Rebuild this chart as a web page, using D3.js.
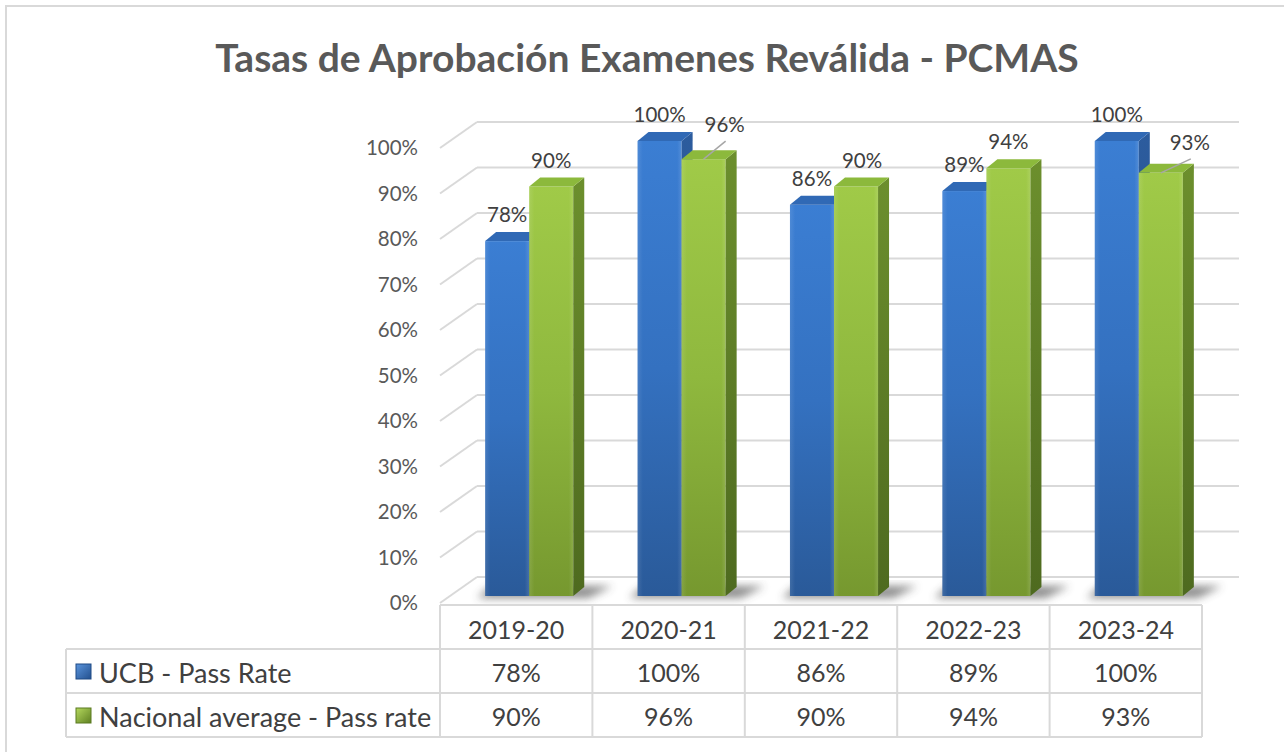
<!DOCTYPE html>
<html><head><meta charset="utf-8">
<script src="https://cdn.jsdelivr.net/npm/d3@7"></script>
<style>body{margin:0;background:#fff}svg{display:block}</style>
</head><body>
<svg id="c" width="1284" height="752"></svg>
<script>
// ---- data ----
const categories = ["2019-20", "2020-21", "2021-22", "2022-23", "2023-24"];
const ucbPassRate = [78, 100, 86, 89, 100];
const nacionalPassRate = [90, 96, 90, 94, 93];
const seriesNames = ["UCB - Pass Rate", "Nacional average - Pass rate"];
const yTicks = [0, 10, 20, 30, 40, 50, 60, 70, 80, 90, 100];
const title = "Tasas de Aprobación Examenes Reválida - PCMAS";

// ---- drawing ----
const FONT = "Lato, 'Open Sans', sans-serif";
const svg = d3.select("#c");
const defs = svg.append("defs");

function vgrad(id, stops) {
  const g = defs.append("linearGradient").attr("id", id).attr("x1", 0).attr("y1", 0).attr("x2", 0).attr("y2", 1);
  stops.forEach(s => g.append("stop").attr("offset", s[0]).attr("stop-color", s[1]));
}
function hgrad(id, stops) {
  const g = defs.append("linearGradient").attr("id", id).attr("x1", 0).attr("y1", 0).attr("x2", 1).attr("y2", 0);
  stops.forEach(s => g.append("stop").attr("offset", s[0]).attr("stop-color", s[1]));
}
vgrad("blueFront", [[0, "#3b7ed3"], [0.5, "#3471c0"], [1, "#2a5a99"]]);
vgrad("blueSide", [[0, "#2c5c9e"], [1, "#22497f"]]);
vgrad("greenFront", [[0, "#a0ca48"], [0.5, "#8fb83e"], [1, "#76982f"]]);
vgrad("greenSide", [[0, "#6c8f2d"], [1, "#4e6a1f"]]);
hgrad("faceHi", [[0, "rgba(255,255,255,0.10)"], [0.12, "rgba(255,255,255,0)"], [0.9, "rgba(255,255,255,0)"], [1, "rgba(255,255,255,0.12)"]]);
const blur = defs.append("filter").attr("id", "shadowBlur").attr("x", "-50%").attr("y", "-50%").attr("width", "200%").attr("height", "200%");
blur.append("feGaussianBlur").attr("stdDeviation", 4);
const lg1 = defs.append("linearGradient").attr("id", "legBlue").attr("x1", 0).attr("y1", 0).attr("x2", 1).attr("y2", 1);
lg1.append("stop").attr("offset", 0).attr("stop-color", "#5b95dd");
lg1.append("stop").attr("offset", 1).attr("stop-color", "#23508e");
const lg2 = defs.append("linearGradient").attr("id", "legGreen").attr("x1", 0).attr("y1", 0).attr("x2", 1).attr("y2", 1);
lg2.append("stop").attr("offset", 0).attr("stop-color", "#b5d95e");
lg2.append("stop").attr("offset", 1).attr("stop-color", "#5f8022");

// chart frame
svg.append("rect").attr("x", 6).attr("y", 6).attr("width", 1300).attr("height", 800)
  .attr("fill", "#fff").attr("stroke", "#d9d9d9").attr("stroke-width", 2);

svg.append("text").attr("x", 647).attr("y", 57).attr("text-anchor", "middle")
  .attr("dominant-baseline", "central").attr("font-family", FONT).attr("font-weight", 700)
  .attr("font-size", 39).attr("fill", "#595959").text(title);

// front-plane scales
const x = d3.scaleBand().domain(categories).range([440, 1202]);
const y = d3.scaleLinear().domain([0, 100]).range([603, 148]);
const DX = 37, DY = -26;           // depth of the floor / side wall
const BX = 13, BY = -7;            // bar front face offset into depth
const PX = 11, PY = -9;            // bar depth

const sub = d3.scaleBand().domain([0, 1]).range([0, x.bandwidth()]).paddingInner(0).paddingOuter(0.73);

// gridlines: back wall + side wall diagonals
const grid = svg.append("g").attr("stroke", "#d9d9d9").attr("stroke-width", 2).attr("fill", "none");
yTicks.forEach(t => {
  grid.append("line").attr("x1", x.range()[0] + DX).attr("x2", x.range()[1] + DX)
    .attr("y1", y(t) + DY).attr("y2", y(t) + DY);
  grid.append("line").attr("x1", x.range()[0]).attr("x2", x.range()[0] + DX)
    .attr("y1", y(t)).attr("y2", y(t) + DY);
});

// y axis labels
const yAxis = d3.axisLeft(y).tickValues(yTicks).tickFormat(d => d + "%").tickSize(0).tickPadding(22);
const ya = svg.append("g").attr("transform", `translate(${x.range()[0]},0)`).call(yAxis);
ya.select(".domain").remove();
ya.selectAll("text").attr("font-family", FONT).attr("font-size", 20.5).attr("fill", "#595959");

// bars
const series = [
  { values: ucbPassRate, front: "url(#blueFront)", side: "url(#blueSide)", top: "#3069b5" },
  { values: nacionalPassRate, front: "url(#greenFront)", side: "url(#greenSide)", top: "#8cb93c" }
];
const bars = svg.append("g");
const base = y(0) + BY;

// shadows under each category
categories.forEach((c, i) => {
  const l = x(c) + BX + sub(0), r = x(c) + BX + sub(1) + sub.bandwidth() + PX;
  bars.append("polygon")
    .attr("points", [[l - 8, base + 2], [r + 4, base + 2], [r + 28, base - 10], [l + 6, base - 10]].map(p => p.join(",")).join(" "))
    .attr("fill", "#404040").attr("opacity", 0.6).attr("filter", "url(#shadowBlur)");
});

categories.forEach((c, i) => {
  series.forEach((s, k) => {
    const v = s.values[i];
    const l = x(c) + BX + sub(k), r = l + sub.bandwidth();
    const top = y(v) + BY;
    const g = bars.append("g");
    g.append("rect").attr("x", l).attr("y", top).attr("width", r - l).attr("height", base - top).attr("fill", s.front);
    g.append("rect").attr("x", l).attr("y", top).attr("width", r - l).attr("height", base - top).attr("fill", "url(#faceHi)");
    g.append("polygon").attr("points", [[r, top], [r + PX, top + PY], [r + PX, base + PY], [r, base]].map(p => p.join(",")).join(" "))
      .attr("fill", s.side);
    g.append("polygon").attr("points", [[l, top], [l + PX, top + PY], [r + PX, top + PY], [r, top]].map(p => p.join(",")).join(" "))
      .attr("fill", s.top);
  });
});

// data labels
const nudges = [
  [[0, 0], [0, 0], [0, 0], [0, 0], [0, 0]],
  [[0, 0], [21, -8], [6, 0], [0, 0], [29, -4]]
];
const labels = svg.append("g").attr("font-family", FONT).attr("font-size", 20.5).attr("fill", "#404040");
categories.forEach((c, i) => {
  series.forEach((s, k) => {
    const v = s.values[i];
    const cx = x(c) + BX + sub(k) + sub.bandwidth() / 2;
    const top = y(v) + BY;
    const [nx, ny] = nudges[k][i];
    const lx = cx + nx, ly = top - 27 + ny;
    if (Math.abs(nx) > 15) {
      labels.append("line").attr("x1", cx).attr("y1", top).attr("x2", lx + 1).attr("y2", ly + 17)
        .attr("stroke", "#a6a6a6").attr("stroke-width", 1.5);
    }
    labels.append("text").attr("x", lx).attr("y", ly).attr("text-anchor", "middle")
      .attr("dominant-baseline", "central").text(v + "%");
  });
});

// data table
const rows = [605, 649, 693, 737];
const legendLeft = 66;
const tbl = svg.append("g").attr("stroke", "#d9d9d9").attr("stroke-width", 2);
tbl.append("line").attr("x1", x.range()[0]).attr("x2", x.range()[1]).attr("y1", rows[0]).attr("y2", rows[0]);
[1, 2, 3].forEach(r => tbl.append("line").attr("x1", legendLeft).attr("x2", x.range()[1]).attr("y1", rows[r]).attr("y2", rows[r]));
tbl.append("line").attr("x1", legendLeft).attr("x2", legendLeft).attr("y1", rows[1]).attr("y2", rows[3]);
categories.concat([null]).forEach((c, i) => {
  const xx = c === null ? x.range()[1] : x(c);
  tbl.append("line").attr("x1", xx).attr("x2", xx).attr("y1", rows[0]).attr("y2", rows[3]);
});

const tt = svg.append("g").attr("font-family", FONT).attr("font-size", 25).attr("fill", "#404040");
categories.forEach((c, i) => {
  const cx = x(c) + x.bandwidth() / 2;
  tt.append("text").attr("x", cx).attr("y", (rows[0] + rows[1]) / 2 + 2).attr("text-anchor", "middle")
    .attr("dominant-baseline", "central").text(c);
  series.forEach((s, k) => {
    tt.append("text").attr("x", cx).attr("y", (rows[k + 1] + rows[k + 2]) / 2 + 1).attr("text-anchor", "middle")
      .attr("dominant-baseline", "central").text(s.values[i] + "%");
  });
});
seriesNames.forEach((n, k) => {
  const cy = (rows[k + 1] + rows[k + 2]) / 2;
  svg.append("rect").attr("x", 76).attr("y", cy - 7).attr("width", 15).attr("height", 15)
    .attr("fill", k === 0 ? "url(#legBlue)" : "url(#legGreen)")
    .attr("stroke", k === 0 ? "#1f4a85" : "#5a7a20").attr("stroke-width", 1);
  tt.append("text").attr("x", 99).attr("y", cy + 1).attr("dominant-baseline", "central")
    .attr("font-size", 27).text(n);
});
</script>
</body></html>
